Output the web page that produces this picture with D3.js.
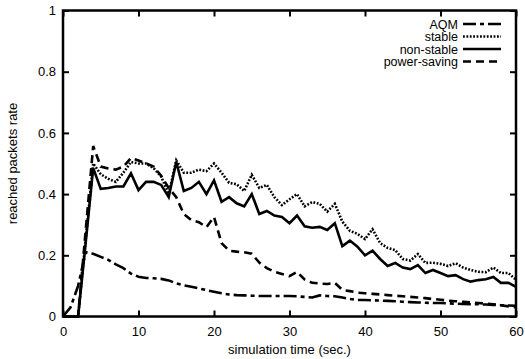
<!DOCTYPE html>
<html>
<head>
<meta charset="utf-8">
<script src="https://cdn.jsdelivr.net/npm/d3@7"></script>
<style>
  html, body { margin: 0; padding: 0; background: #fff; }
  svg { display: block; }
  text { font-family: "Liberation Sans", Arial, Helvetica, sans-serif; fill: #000; }
</style>
</head>
<body>
<svg id="chart" width="525" height="359"></svg>
<script>
const times = d3.range(0, 61);
const aqm = [0, 0.03, 0.1, 0.21, 0.205, 0.195, 0.185, 0.17, 0.158, 0.14,
  0.13, 0.126, 0.125, 0.123, 0.118, 0.108, 0.102, 0.097, 0.092, 0.086,
  0.081, 0.076, 0.072, 0.07, 0.069, 0.068, 0.067, 0.067, 0.067, 0.067,
  0.067, 0.066, 0.064, 0.062, 0.069, 0.067, 0.066, 0.062, 0.057, 0.054,
  0.054, 0.053, 0.052, 0.051, 0.05, 0.048, 0.047, 0.046, 0.045, 0.044,
  0.044, 0.043, 0.042, 0.041, 0.04, 0.04, 0.039, 0.038, 0.037, 0.036, 0.035];
const stable = [0, 0, 0, 0.25, 0.50, 0.465, 0.45, 0.44, 0.47, 0.505,
  0.50, 0.50, 0.485, 0.457, 0.40, 0.51, 0.47, 0.47, 0.48, 0.475,
  0.50, 0.47, 0.437, 0.432, 0.41, 0.463, 0.42, 0.43, 0.39, 0.364,
  0.383, 0.40, 0.36, 0.374, 0.368, 0.343, 0.368, 0.31, 0.28, 0.27,
  0.253, 0.285, 0.24, 0.224, 0.217, 0.188, 0.183, 0.204, 0.175, 0.176,
  0.172, 0.165, 0.174, 0.16, 0.152, 0.146, 0.145, 0.16, 0.142, 0.142, 0.12];
const nonStable = [0, 0, 0, 0.24, 0.485, 0.417, 0.42, 0.425, 0.425, 0.468,
  0.413, 0.44, 0.44, 0.43, 0.39, 0.505, 0.41, 0.42, 0.44, 0.40,
  0.445, 0.375, 0.39, 0.37, 0.36, 0.40, 0.335, 0.345, 0.33, 0.325,
  0.305, 0.33, 0.295, 0.29, 0.293, 0.283, 0.305, 0.23, 0.248, 0.228,
  0.20, 0.215, 0.188, 0.165, 0.175, 0.16, 0.155, 0.168, 0.142, 0.152,
  0.142, 0.132, 0.135, 0.122, 0.114, 0.119, 0.122, 0.129, 0.11, 0.11, 0.097];
const powerSaving = [0, 0, 0, 0.28, 0.557, 0.49, 0.484, 0.48, 0.49, 0.518,
  0.51, 0.50, 0.49, 0.46, 0.42, 0.39, 0.335, 0.315, 0.308, 0.292,
  0.325, 0.24, 0.215, 0.212, 0.21, 0.205, 0.176, 0.158, 0.146, 0.139,
  0.132, 0.146, 0.121, 0.11, 0.108, 0.106, 0.11, 0.087, 0.083, 0.078,
  0.076, 0.074, 0.072, 0.07, 0.068, 0.066, 0.064, 0.062, 0.06, 0.057,
  0.055, 0.052, 0.05, 0.048, 0.046, 0.044, 0.042, 0.04, 0.037, 0.033, 0.03];
const seriesNames = ["AQM", "stable", "non-stable", "power-saving"];
const seriesValues = [aqm, stable, nonStable, powerSaving];
const seriesDash = ["13,4,4,4", "1.8,1.6", null, "8,5"];
const xTicks = [0, 10, 20, 30, 40, 50, 60];
const yTicks = [0, 0.2, 0.4, 0.6, 0.8, 1];
const xTitle = "simulation time (sec.)";
const yTitle = "reached packets rate";

const svg = d3.select("#chart");
const L = 63, R = 516, T = 10.5, B = 316.5;
const x = d3.scaleLinear().domain([0, 60]).range([L, R]);
const y = d3.scaleLinear().domain([0, 1]).range([B, T]);

// axes with inward ticks
const tickLen = 6;
const gB = svg.append("g").attr("transform", `translate(0,${B})`)
  .call(d3.axisBottom(x).tickValues(xTicks).tickSizeInner(-tickLen).tickSizeOuter(0).tickPadding(10).tickFormat(d3.format("d")));
const gT = svg.append("g").attr("transform", `translate(0,${T})`)
  .call(d3.axisTop(x).tickValues(xTicks).tickSizeInner(-tickLen).tickSizeOuter(0).tickFormat(""));
const gL = svg.append("g").attr("transform", `translate(${L},0)`)
  .call(d3.axisLeft(y).tickValues(yTicks).tickSizeInner(-tickLen).tickSizeOuter(0).tickPadding(7).tickFormat(d => d === 0 || d === 1 ? String(d) : d3.format(".1f")(d)));
const gR = svg.append("g").attr("transform", `translate(${R},0)`)
  .call(d3.axisRight(y).tickValues(yTicks).tickSizeInner(-tickLen).tickSizeOuter(0).tickFormat(""));
[gB, gT, gL, gR].forEach(g => {
  g.select(".domain").remove();
  g.selectAll(".tick line").attr("stroke", "#000").attr("stroke-width", 2);
  g.selectAll(".tick text").style("font-size", "13px").style("font-family", "Liberation Sans, Arial, sans-serif");
});

// frame
svg.append("rect").attr("x", L).attr("y", T).attr("width", R - L).attr("height", B - T)
  .attr("fill", "none").attr("stroke", "#000").attr("stroke-width", 2.5);

// lines
const line = d3.line().x((d, i) => x(times[i])).y(d => y(d));
seriesValues.forEach((vals, k) => {
  svg.append("path").datum(vals)
    .attr("d", line)
    .attr("fill", "none")
    .attr("stroke", "#000")
    .attr("stroke-width", 2.6)
    .attr("stroke-linejoin", "miter")
    .attr("stroke-dasharray", seriesDash[k]);
});

// legend
const legY = [24, 36.5, 49, 61.5];
seriesNames.forEach((name, k) => {
  svg.append("text").attr("x", 458).attr("y", legY[k]).attr("dy", "0.36em")
    .attr("text-anchor", "end").style("font-size", "12.5px").text(name);
  svg.append("line").attr("x1", 463).attr("x2", 501).attr("y1", legY[k]).attr("y2", legY[k])
    .attr("stroke", "#000").attr("stroke-width", 2.6).attr("stroke-dasharray", seriesDash[k]);
});

// titles
svg.append("text").attr("x", (L + R) / 2).attr("y", 354).attr("text-anchor", "middle")
  .style("font-size", "13px").text(xTitle);
svg.append("text").attr("transform", `translate(17,${(T + B) / 2}) rotate(-90)`)
  .attr("text-anchor", "middle").style("font-size", "13px").text(yTitle);
</script>
</body>
</html>
